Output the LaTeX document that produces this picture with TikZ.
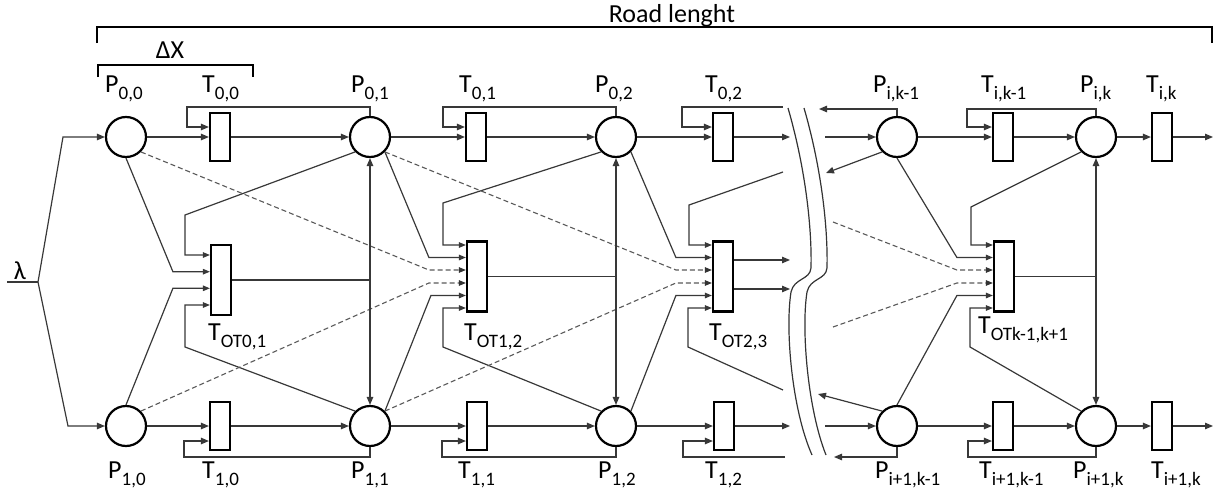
\documentclass[tikz,border=0pt]{standalone}
\usepackage{fontspec}
\setmainfont{Carlito}
\usetikzlibrary{arrows.meta,calc}

% label with a lowered, smaller index
\newcommand{\lbl}[2]{#1\raisebox{-7pt}{\fontsize{19}{20}\selectfont#2}}

\begin{document}
\begin{tikzpicture}[x=1pt,y=-1pt,
  place/.style={circle,draw=black,line width=2.2pt,minimum size=40pt,inner sep=0pt},
  trans/.style={rectangle,draw=black,line width=2.2pt,minimum width=20pt,minimum height=48pt,inner sep=0pt},
  ottrans/.style={trans,minimum height=70pt},
  arc/.style={draw=black!78,line width=1.2pt},
  tip/.style={arc,-{Triangle[length=8pt,width=6.5pt]}},
  tips/.style={arc,-{Triangle[length=7pt,width=5.5pt]}},
  dashedarc/.style={draw=black!65,line width=1.1pt,dash pattern=on 5pt off 3pt},
  dtips/.style={dashedarc,-{Triangle[length=7pt,width=5.5pt,color=black!80]}},
  lab/.style={inner sep=0pt,font=\fontsize{26}{30}\selectfont,anchor=base west},
  brace/.style={draw=black,line width=2pt},
  breakline/.style={draw=black!80,line width=1.2pt}
]
\useasboundingbox (0,0) rectangle (1216,498);

% ---------- places ----------
\node[place] (P00) at (126,137) {};
\node[place] (P01) at (370,137) {};
\node[place] (P02) at (616,137) {};
\node[place] (Pik1) at (897,137) {};
\node[place] (Pik) at (1096,137) {};
\node[place] (P10) at (126,426) {};
\node[place] (P11) at (370,426) {};
\node[place] (P12) at (616,426) {};
\node[place] (Pi1k1) at (897,426) {};
\node[place] (Pi1k) at (1096,426) {};

% ---------- transitions ----------
\node[trans] (T00) at (220,137) {};
\node[trans] (T01) at (476,137) {};
\node[trans] (T02) at (723,137) {};
\node[trans] (Tik1) at (1003,137) {};
\node[trans] (Tik) at (1162,137) {};
\node[trans] (T10) at (220,426) {};
\node[trans] (T11) at (477,426) {};
\node[trans] (T12) at (724,426) {};
\node[trans] (Ti1k1) at (1003,426) {};
\node[trans] (Ti1k) at (1162,426) {};

% ---------- overtaking transitions ----------
\node[ottrans] (OT01) at (221,280) {};
\node[ottrans] (OT12) at (477,276.5) {};
\node[ottrans] (OT23) at (723,276.5) {};
\node[ottrans] (OTk) at (1004,276.5) {};

\foreach \n/\d in {1/-25,2/-8.3,3/8.3,4/25}
  \coordinate (OT01-\n) at ($(OT01.west)+(0,\d)$);
\foreach \t in {OT12,OT23,OTk}
  \foreach \n/\d in {1/-31.5,2/-19,3/-6.5,4/6.5,5/19,6/31.5}
    \coordinate (\t-\n) at ($(\t.west)+(0,\d)$);

% ---------- lambda source ----------
\node[lab,anchor=base] (lam) at (20,279) {λ};
\coordinate (lamL) at (7,282);
\coordinate (lamJ) at (38,282);
\draw[arc] (lamL) -- (lamJ);
\draw[tip] (lamJ) -- (63,137) -- (P00);
\draw[tip] (lamJ) -- (68,426) -- (P10);

% ---------- upper lane ----------
\draw[tip] (P00) -- (T00);
\draw[tip] (T00) -- (P01);
\draw[tip] (P01) -- (T01);
\draw[tip] (T01) -- (P02);
\draw[tip] (P02) -- (T02);
\coordinate (o02) at (790,137);
\draw[tip] (T02) -- (o02);
\draw[tip] (P01.north) |- (187,107) |- ($(T00.west)+(0,-10)$);
\draw[tip] (P02.north) |- (443,107) |- ($(T01.west)+(0,-10)$);
\coordinate (b02) at (783,107);
\draw[tip] (b02) -| (682,127) -- ($(T02.west)+(0,-10)$);

% ---------- lower lane ----------
\draw[tip] (P10) -- (T10);
\draw[tip] (T10) -- (P11);
\draw[tip] (P11) -- (T11);
\draw[tip] (T11) -- (P12);
\draw[tip] (P12) -- (T12);
\coordinate (o12) at (790,426);
\draw[tip] (T12) -- (o12);
\draw[tip] (P11.south) |- (184,457) |- ($(T10.west)+(0,15)$);
\draw[tip] (P12.south) |- (442,457) |- ($(T11.west)+(0,15)$);
\coordinate (b12) at (785,457);
\draw[tip] (b12) -| (683,441) -- ($(T12.west)+(0,15)$);

% ---------- last section, upper lane ----------
\coordinate (i0) at (825,137);
\draw[tip] (i0) -- (Pik1);
\coordinate (r0) at (819,109);
\draw[tip] (Pik1.north) |- (r0);
\coordinate (r1) at (826,173);
\draw[tip] (Pik1.-135) -- (r1);
\draw[tip] (Pik1) -- (Tik1);
\draw[tip] (Tik1) -- (Pik);
\draw[tip] (Pik) -- (Tik);
\coordinate (o3) at (1213,137);
\draw[tip] (Tik) -- (o3);
\draw[tip] (Pik.north) |- (967,109) |- ($(Tik1.west)+(0,-10)$);

% ---------- last section, lower lane ----------
\coordinate (i1) at (825,426);
\draw[tip] (i1) -- (Pi1k1);
\coordinate (r2) at (818,394);
\draw[tip] (Pi1k1.135) -- (r2);
\coordinate (r3) at (834,457);
\draw[tip] (Pi1k1.south) |- (r3);
\draw[tip] (Pi1k1) -- (Ti1k1);
\draw[tip] (Ti1k1) -- (Pi1k);
\draw[tip] (Pi1k) -- (Ti1k);
\coordinate (o4) at (1213,426);
\draw[tip] (Ti1k) -- (o4);
\draw[tip] (Pi1k.south) |- (968,457) |- ($(Ti1k1.west)+(0,15)$);

% ---------- inputs of T_OT0,1 ----------
\draw[tips] (P01.-135) -- (185,215) |- (OT01-1);
\draw[tips] (P00.south) -- ($(OT01-2)+(-37,0)$) -- (OT01-2);
\draw[tips] (P10.north) -- ($(OT01-3)+(-37,0)$) -- (OT01-3);
\draw[tips] (P11.135) -- (185,347) |- (OT01-4);

% ---------- inputs of T_OT1,2 ----------
\draw[tips] (P02.-135) -- (443,203) |- (OT12-1);
\draw[tips] (P01.-45) -- ($(OT12-2)+(-37,0)$) -- (OT12-2);
\draw[dtips] (P00.-45) -- ($(OT12-3)+(-37,0)$) -- (OT12-3);
\draw[dtips] (P10.45) -- ($(OT12-4)+(-37,0)$) -- (OT12-4);
\draw[tips] (P11.45) -- ($(OT12-5)+(-35,0)$) -- (OT12-5);
\draw[tips] (P12.135) -- (443,347) |- (OT12-6);

% ---------- inputs of T_OT2,3 ----------
\coordinate (c1) at (783,172);
\draw[tips] (c1) -- (689,205) |- (OT23-1);
\draw[tips] (P02.-45) -- ($(OT23-2)+(-36,0)$) -- (OT23-2);
\draw[dtips] (P01.-45) -- ($(OT23-3)+(-36,0)$) -- (OT23-3);
\draw[dtips] (P11.45) -- ($(OT23-4)+(-36,0)$) -- (OT23-4);
\draw[tips] (P12.45) -- ($(OT23-5)+(-36,0)$) -- (OT23-5);
\coordinate (c2) at (783,390);
\draw[tips] (c2) -- (688,347) |- (OT23-6);

% ---------- inputs of T_OTk-1,k+1 ----------
\draw[tips] (Pik.-135) -- (971,207) |- (OTk-1);
\draw[tips] (Pik1.south) -- ($(OTk-2)+(-36,0)$) -- (OTk-2);
\coordinate (d1) at (833,222);
\draw[dtips] (d1) -- ($(OTk-3)+(-36,0)$) -- (OTk-3);
\coordinate (d2) at (833,327);
\draw[dtips] (d2) -- ($(OTk-4)+(-36,0)$) -- (OTk-4);
\draw[tips] (Pi1k1.north) -- ($(OTk-5)+(-36,0)$) -- (OTk-5);
\draw[tips] (Pi1k.135) -- (970,347) |- (OTk-6);

% ---------- outputs of the overtaking transitions ----------
\coordinate (j01) at (OT01.east -| P01);
\draw[arc] (OT01.east) -- (j01);
\draw[tip] (j01) -- (P01.south);
\draw[tip] (j01) -- (P11.north);
\coordinate (j12) at (OT12.east -| P02);
\draw[arc] (OT12.east) -- (j12);
\draw[tip] (j12) -- (P02.south);
\draw[tip] (j12) -- (P12.north);
\coordinate (jk) at (OTk.east -| Pik);
\draw[arc] (OTk.east) -- (jk);
\draw[tip] (jk) -- (Pik.south);
\draw[tip] (jk) -- (Pi1k.north);
\coordinate (o23a) at (790,260);
\coordinate (o23b) at (790,289);
\draw[tip] ($(OT23.east)+(0,-16.5)$) -- (o23a);
\draw[tip] ($(OT23.east)+(0,12.5)$) -- (o23b);

% ---------- road break ----------
\draw[breakline] (788,108) .. controls (806,170) and (812,230) .. (811,268)
  .. controls (810,280) and (794,278) .. (791,292)
  .. controls (785,330) and (792,410) .. (812,455);
\draw[breakline] (804,108) .. controls (822,170) and (828,230) .. (827,268)
  .. controls (826,280) and (810,278) .. (807,292)
  .. controls (801,330) and (808,410) .. (826,455);

% ---------- dimension brackets ----------
\draw[brace] (97,43) -- (97,27) -- (1212,27) -- (1212,43);
\node[lab,anchor=base] (road) at (672,22) {Road lenght};
\draw[brace] (98,77) -- (98,65) -- (253,65) -- (253,77);
\node[lab,anchor=base] (dx) at (170,58) {ΔX};

% ---------- labels ----------
\node[lab] (lP00) at (105,92) {\lbl{P}{0,0}};
\node[lab] (lT00) at (202,92) {\lbl{T}{0,0}};
\node[lab] (lP01) at (351,92) {\lbl{P}{0,1}};
\node[lab] (lT01) at (459,92) {\lbl{T}{0,1}};
\node[lab] (lP02) at (595,92) {\lbl{P}{0,2}};
\node[lab] (lT02) at (705,92) {\lbl{T}{0,2}};
\node[lab] (lPik1) at (873,92) {\lbl{P}{i,k-1}};
\node[lab] (lTik1) at (981,92) {\lbl{T}{i,k-1}};
\node[lab] (lPik) at (1080,92) {\lbl{P}{i,k}};
\node[lab] (lTik) at (1146,92) {\lbl{T}{i,k}};

\node[lab] (lP10) at (108,478) {\lbl{P}{1,0}};
\node[lab] (lT10) at (202,478) {\lbl{T}{1,0}};
\node[lab] (lP11) at (351,478) {\lbl{P}{1,1}};
\node[lab] (lT11) at (458,478) {\lbl{T}{1,1}};
\node[lab] (lP12) at (598,478) {\lbl{P}{1,2}};
\node[lab] (lT12) at (705,478) {\lbl{T}{1,2}};
\node[lab] (lPi1k1) at (875,478) {\lbl{P}{i+1,k-1}};
\node[lab] (lTi1k1) at (979,478) {\lbl{T}{i+1,k-1}};
\node[lab] (lPi1k) at (1073,478) {\lbl{P}{i+1,k}};
\node[lab] (lTi1k) at (1151,478) {\lbl{T}{i+1,k}};

\node[lab] (lOT01) at (208,340) {\lbl{T}{OT0,1}};
\node[lab] (lOT12) at (464,340) {\lbl{T}{OT1,2}};
\node[lab] (lOT23) at (709,340) {\lbl{T}{OT2,3}};
\node[lab] (lOTk) at (978,333) {\lbl{T}{OTk-1,k+1}};
\end{tikzpicture}
\end{document}
